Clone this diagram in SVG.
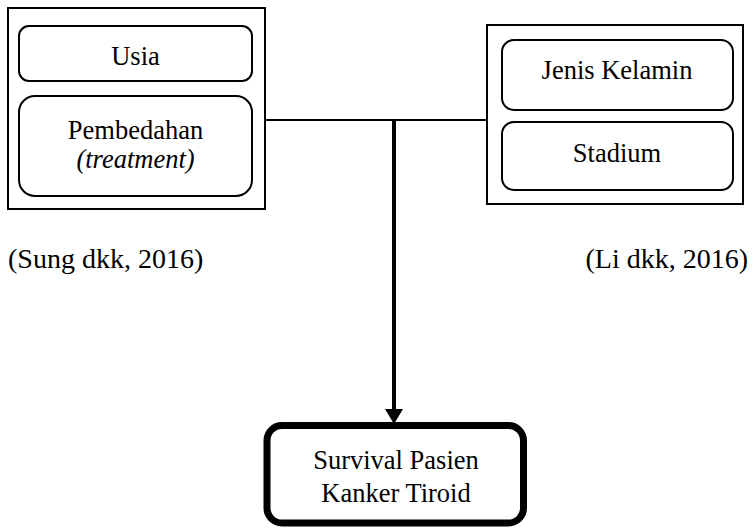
<svg xmlns="http://www.w3.org/2000/svg" width="755" height="528" viewBox="0 0 755 528">
  <style>
    .frame { fill: #fff; stroke: #000; stroke-width: 2; }
    .item { fill: #fff; stroke: #000; stroke-width: 2; }
    .label { font-family: 'Liberation Serif', 'Times New Roman', Times, serif; font-size: 26.5px; fill: #000; }
    .cite { font-size: 28px; }
    .mid { text-anchor: middle; }
    .link { fill: none; stroke: #000; stroke-width: 2; }
  </style>
  <rect width="755" height="528" fill="#fff"/>

  <g id="connectors">
    <path class="link" d="M265 120 H487"/>
    <line x1="394" y1="120" x2="394" y2="410" stroke="#000" stroke-width="4"/>
    <path d="M385 409 L403 409 L394 424 Z" fill="#000"/>
  </g>

  <g id="group-left">
    <rect class="frame" x="8" y="8" width="257" height="201"/>
    <g id="node-usia">
      <rect class="item" x="19" y="26" width="233" height="55" rx="10"/>
      <text class="label mid" x="135.5" y="65">Usia</text>
    </g>
    <g id="node-pembedahan">
      <rect class="item" x="19" y="96" width="233" height="100" rx="16"/>
      <text class="label mid" x="135.5" y="139">Pembedahan</text>
      <text class="label mid" x="135.5" y="168" font-style="italic">(treatment)</text>
    </g>
  </g>

  <g id="group-right">
    <rect class="frame" x="487" y="25" width="256" height="179"/>
    <g id="node-jenis-kelamin">
      <rect class="item" x="502" y="40" width="231" height="70" rx="12"/>
      <text class="label mid" x="617" y="79">Jenis Kelamin</text>
    </g>
    <g id="node-stadium">
      <rect class="item" x="502" y="122" width="231" height="68" rx="12"/>
      <text class="label mid" x="617" y="162">Stadium</text>
    </g>
  </g>

  <g id="citations">
    <text class="label cite" x="8" y="268">(Sung dkk, 2016)</text>
    <text class="label cite" x="748" y="268" text-anchor="end">(Li dkk, 2016)</text>
  </g>

  <g id="node-survival">
    <rect x="267" y="425.5" width="256.5" height="97.5" rx="15" fill="#fff" stroke="#000" stroke-width="7"/>
    <text class="label mid" x="396" y="469">Survival Pasien</text>
    <text class="label mid" x="396" y="502">Kanker Tiroid</text>
  </g>
</svg>
